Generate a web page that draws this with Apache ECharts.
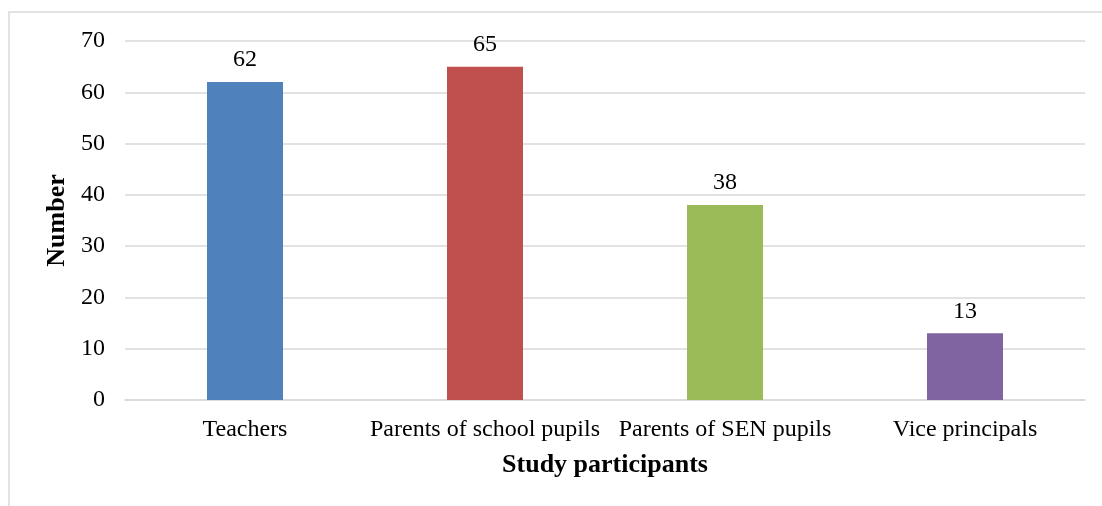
<!DOCTYPE html>
<html>
<head>
<meta charset="utf-8">
<script src="https://cdn.jsdelivr.net/npm/echarts@6/dist/echarts.min.js"></script>
<style>
  html, body { margin: 0; padding: 0; background: #fff; }
  #chart { width: 1102px; height: 506px; }
</style>
</head>
<body>
<div id="chart"></div>
<script>
// Participant groups and counts
const categories = ['Teachers', 'Parents of school pupils', 'Parents of SEN pupils', 'Vice principals'];
const counts = [62, 65, 38, 13];
const barColors = ['#4F81BD', '#C0504D', '#9BBB59', '#8064A2'];

const serif = '"Liberation Serif", "Times New Roman", serif';

const chart = echarts.init(document.getElementById('chart'));
chart.setOption({
  animation: false,
  backgroundColor: '#ffffff',
  textStyle: { fontFamily: serif },
  graphic: [
    {
      type: 'polyline',
      shape: { points: [[9, 506], [9, 12], [1102, 12]] },
      style: { stroke: '#d9d9d9', lineWidth: 1.5, fill: null },
      silent: true
    }
  ],
  grid: { left: 125, right: 17, top: 41, bottom: 106 },
  xAxis: {
    type: 'category',
    data: categories,
    name: 'Study participants',
    nameLocation: 'middle',
    nameGap: 52,
    nameTextStyle: { fontFamily: serif, fontSize: 26, fontWeight: 'bold', color: '#000' },
    axisLine: { lineStyle: { color: '#d9d9d9', width: 1.5 } },
    axisTick: { show: false },
    axisLabel: {
      interval: 0,
      hideOverlap: false,
      fontFamily: serif,
      fontSize: 24,
      color: '#000',
      margin: 18
    }
  },
  yAxis: {
    type: 'value',
    min: 0,
    max: 70,
    interval: 10,
    name: 'Number',
    nameLocation: 'middle',
    nameGap: 54,
    nameTextStyle: { fontFamily: serif, fontSize: 26, fontWeight: 'bold', color: '#000' },
    axisLine: { show: false },
    axisTick: { show: false },
    axisLabel: { fontFamily: serif, fontSize: 24, color: '#000', margin: 20 },
    splitLine: { lineStyle: { color: '#d9d9d9', width: 1.5 } }
  },
  series: [
    {
      type: 'bar',
      data: counts.map((v, i) => ({ value: v, itemStyle: { color: barColors[i] } })),
      barWidth: 76,
      label: {
        show: true,
        position: 'top',
        distance: 10,
        fontFamily: serif,
        fontSize: 24,
        color: '#000'
      }
    }
  ]
});
</script>
</body>
</html>
